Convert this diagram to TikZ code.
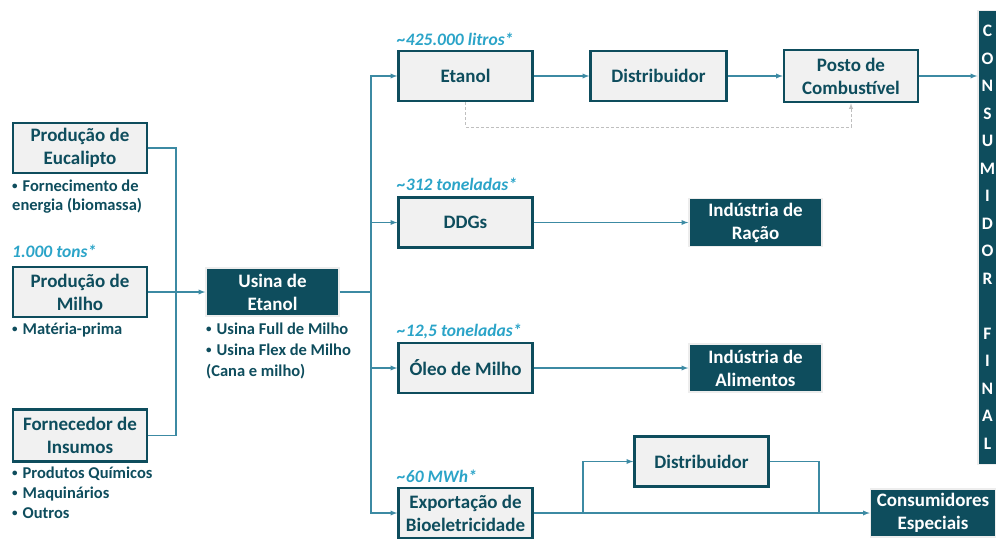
\documentclass[tikz,border=0pt]{standalone}
\usepackage{fontspec}
\setmainfont{Carlito}
\usepackage{tikz}
\usetikzlibrary{calc}

\definecolor{petrol}{HTML}{0E4D5D}
\definecolor{linha}{HTML}{3C8AA3}
\definecolor{ciano}{HTML}{2BA4C8}
\definecolor{caixa}{HTML}{F1F1F1}
\newcommand{\marca}{\raisebox{2.5pt}{\fontsize{11}{11}\selectfont•}\hspace{5pt}}

\begin{document}
\begin{tikzpicture}[x=1pt, y=-1pt, node distance={193pt}, >=latex,
main/.style = {draw=petrol, fill=caixa, line width=2.5pt, minimum width=134pt, minimum height=50pt, inner sep=0pt, align=center, text=petrol, font=\bfseries\fontsize{19}{23}\selectfont},
dark/.style = {draw=black!7, line width=1.5pt, fill=petrol, minimum width=133pt, minimum height=48pt, inner sep=0pt, align=center, text=white, font=\bfseries\fontsize{19}{23}\selectfont},
nota/.style = {anchor=north west, inner sep=0pt, align=left, text=petrol, font=\bfseries\fontsize{16.5}{20}\selectfont},
qtd/.style = {anchor=base west, inner sep=0pt, text=ciano, font=\bfseries\itshape\fontsize{17.5}{20}\selectfont},
seta/.style = {draw=linha, line width=1.3pt},
tracejado/.style = {draw=black!25, line width=0.9pt, densely dashed}]
\useasboundingbox (0,0) rectangle (996,539);

% cadeia de entrada
\node[main] (1) at (80,148) {Produção de\\Eucalipto};
\node[main] (2) [below of=1, node distance=144pt] {Produção de\\Milho};
\node[main, minimum height=52pt] (3) [below of=2, node distance=143.5pt] {Fornecedor de\\Insumos};
\node[dark] (4) at (272.5,292) {Usina de\\Etanol};

% produtos
\node[main] (5) at (465.5,76) {Etanol};
\node[main, minimum width=136pt] (6) [right of=5] {Distribuidor};
\node[main, minimum height=52pt] (7) [right of=6, node distance=192.5pt] {Posto de\\Combustível};
\node[main] (9) [below of=5, node distance=146.5pt] {DDGs};
\node[main] (11) [below of=9, node distance=145.5pt] {Óleo de Milho};
\node[main] (13) [below of=11, node distance=145pt] {Exportação de\\Bioeletricidade};
\node[dark] (10) [right of=9, node distance=290pt] {Indústria de\\Ração};
\node[dark] (12) [right of=11, node distance=290pt] {Indústria de\\Alimentos};
\node[main] (14) at (701.5,461.5) {Distribuidor};
\node[dark, minimum width=125pt] (15) at (933,513) {Consumidores\\Especiais};
\node[dark, minimum width=19pt, minimum height=454pt, font=\bfseries\fontsize{17.5}{27.5}\selectfont] (8) at (987.5,237.5) {C\\O\\N\\S\\U\\M\\I\\D\\O\\R\\\mbox{}\\F\\I\\N\\A\\L};

% textos
\node[nota, font=\bfseries\fontsize{16.5}{18.5}\selectfont] (n1) at (12,180) {\marca Fornecimento de\\energia (biomassa)};
\node[nota] (n2) at (12,323) {\marca Matéria-prima};
\node[nota] (n3) at (12,467) {\marca Produtos Químicos\\\marca Maquinários\\\marca Outros};
\node[nota, font=\bfseries\fontsize{16.5}{20.8}\selectfont] (n4) at (206,323) {\marca Usina Full de Milho\\\marca Usina Flex de Milho\\(Cana e milho)};
\node[qtd] (q1) at (12,257) {1.000 tons*};
\node[qtd] (q2) at (397,45) {\textasciitilde425.000 litros*};
\node[qtd] (q3) at (397,190) {\textasciitilde312 toneladas*};
\node[qtd] (q4) at (397,336) {\textasciitilde12,5 toneladas*};
\node[qtd] (q5) at (397,482) {\textasciitilde60 MWh*};

% ligacoes
\coordinate (j1) at (176,292);
\coordinate (j2) at (371,292);
\coordinate (j3) at (583,513);
\coordinate (j4) at (819,513);
\coordinate (j5) at (851,127);
\draw[seta] (1) -| (j1);
\draw[seta] (3) -| (j1);
\draw[seta, ->] (2) -- (4);
\draw[seta] (4) -- (j2);
\draw[seta, ->] (j2) |- (5);
\draw[seta, ->] (j2) |- (9);
\draw[seta, ->] (j2) |- (11);
\draw[seta, ->] (j2) |- (13);
\draw[seta, ->] (5) -- (6);
\draw[seta, ->] (6) -- (7);
\draw[seta, ->] (7) -- (7 -| 8.west);
\draw[seta, ->] (9) -- (10);
\draw[seta, ->] (11) -- (12);
\draw[seta, ->] (13) -- (15);
\draw[seta, ->] (j3) |- (14);
\draw[seta] (14) -| (j4);
\draw[tracejado, ->] (5) |- (j5) -- (7);
\end{tikzpicture}
\end{document}
